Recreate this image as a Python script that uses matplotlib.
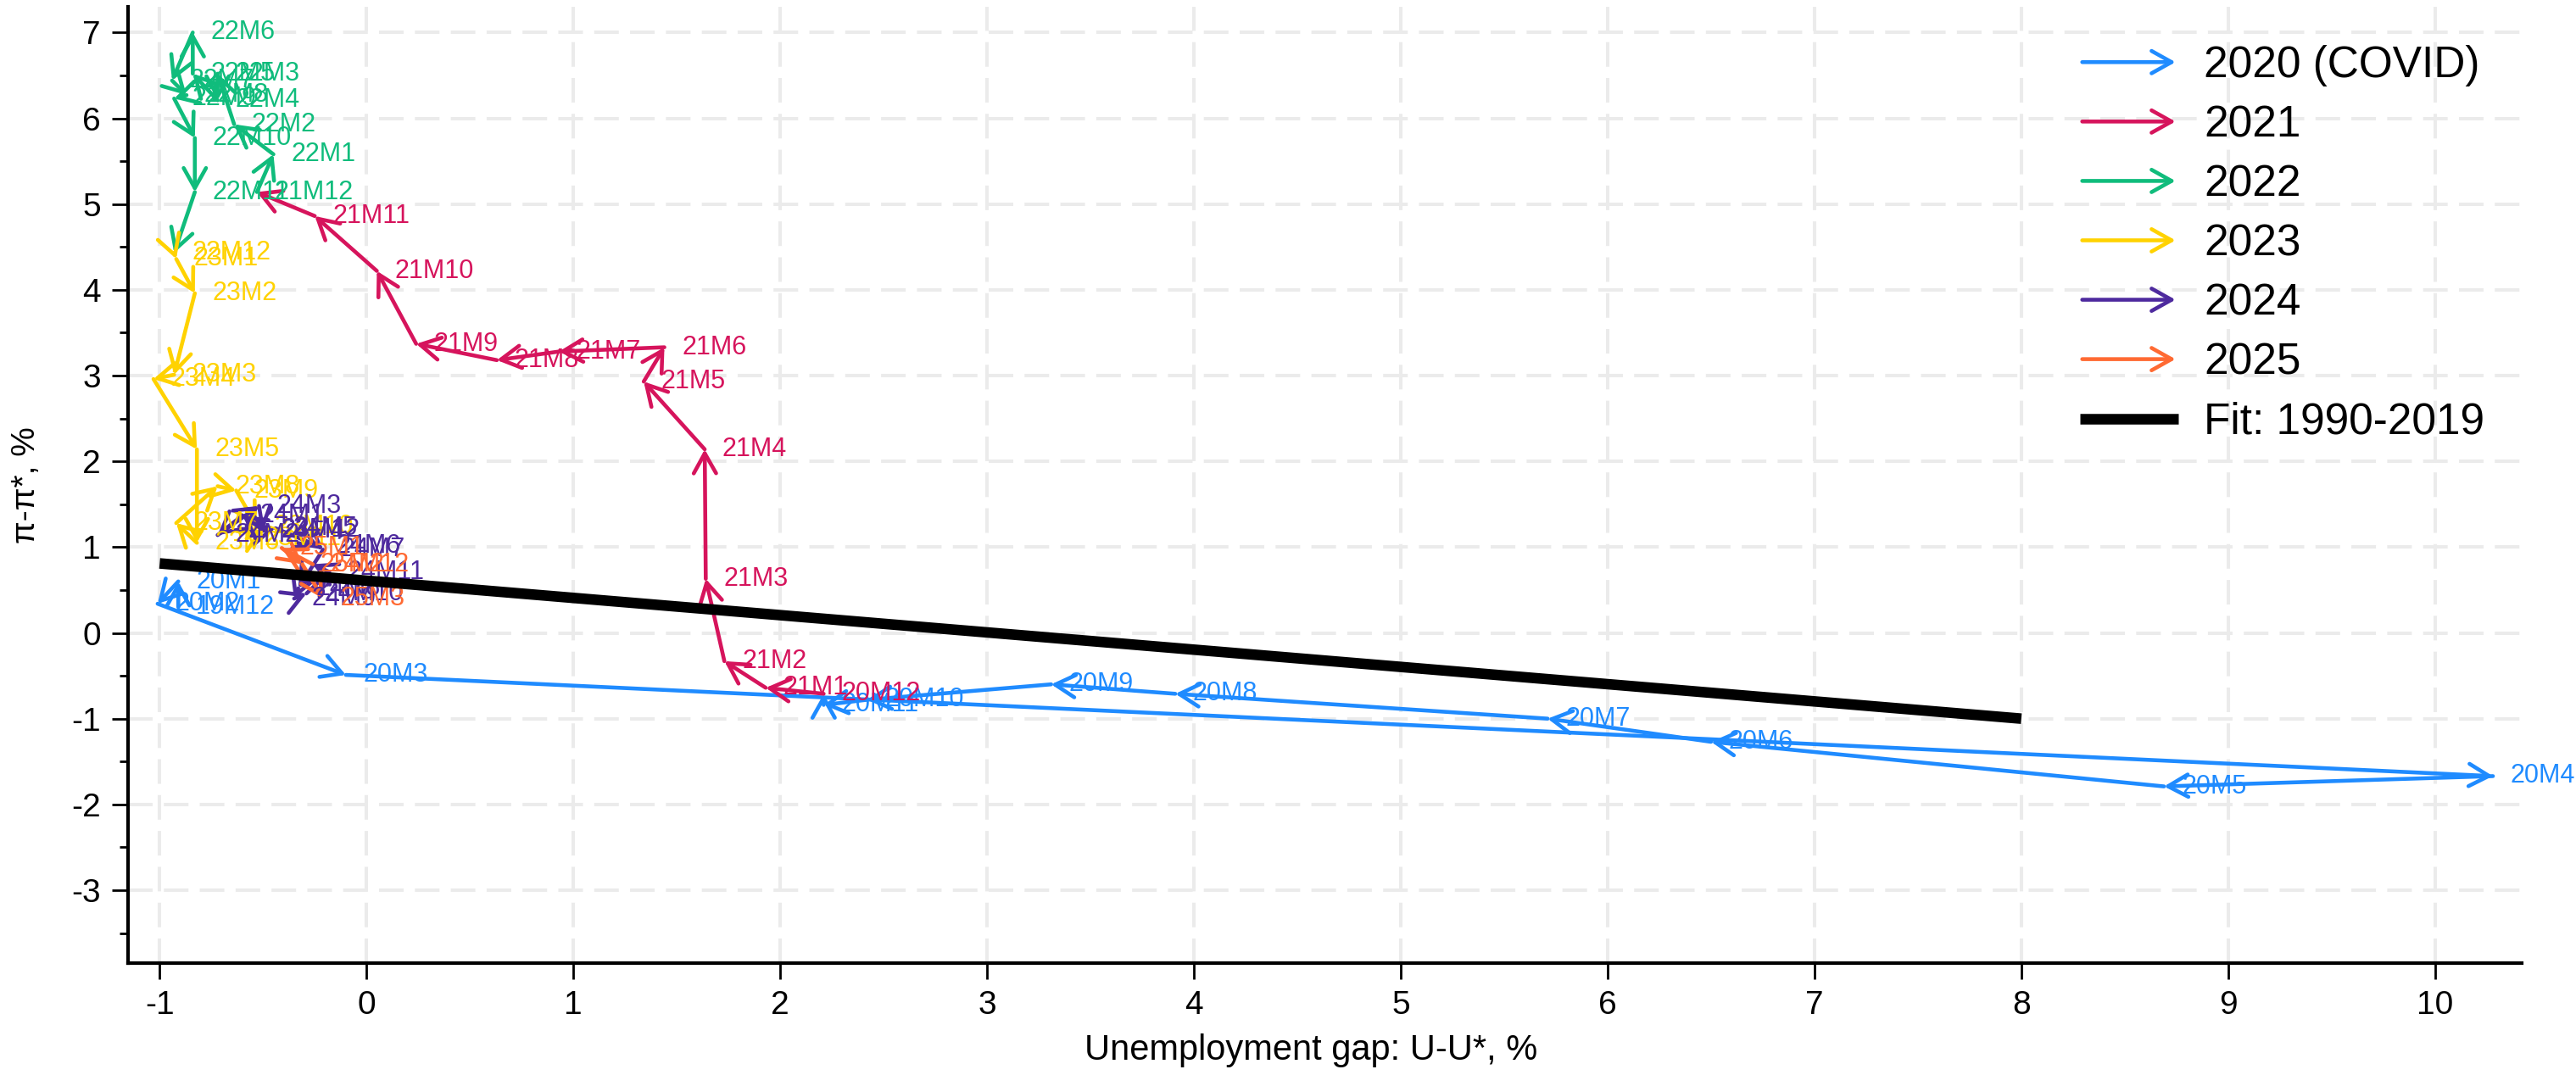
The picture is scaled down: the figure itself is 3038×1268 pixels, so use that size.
import matplotlib
matplotlib.use('Agg')
import matplotlib.pyplot as plt
import matplotlib.patches as mpatches
from matplotlib.lines import Line2D
from matplotlib.legend_handler import HandlerPatch
from matplotlib.ticker import MultipleLocator

plt.rcParams['font.family'] = ['Liberation Sans', 'DejaVu Sans']
plt.rcParams['axes.unicode_minus'] = False

# monthly path: unemployment gap (x) vs inflation gap (y)
months = ['19M12',
          '20M1', '20M2', '20M3', '20M4', '20M5', '20M6', '20M7', '20M8', '20M9', '20M10', '20M11', '20M12',
          '21M1', '21M2', '21M3', '21M4', '21M5', '21M6', '21M7', '21M8', '21M9', '21M10', '21M11', '21M12',
          '22M1', '22M2', '22M3', '22M4', '22M5', '22M6', '22M7', '22M8', '22M9', '22M10', '22M11', '22M12',
          '23M1', '23M2', '23M3', '23M4', '23M5', '23M6', '23M7', '23M8', '23M9', '23M10', '23M11', '23M12',
          '24M1', '24M2', '24M3', '24M4', '24M5', '24M6', '24M7', '24M8', '24M9', '24M10', '24M11', '24M12',
          '25M1', '25M2', '25M3']
ugap = [-0.91,
        -0.91, -1.01, -0.10, 10.28, 8.69, 6.50, 5.71, 3.91, 3.31, 2.42, 2.21, 2.21,
        1.93, 1.73, 1.64, 1.635, 1.34, 1.44, 0.93, 0.63, 0.24, 0.05, -0.25, -0.53,
        -0.45, -0.64, -0.72, -0.72, -0.84, -0.84, -0.94, -0.87, -0.93, -0.83, -0.83, -0.93,
        -0.92, -0.83, -0.93, -1.03, -0.82, -0.82, -0.92, -0.72, -0.63, -0.53, -0.58, -0.50,
        -0.60, -0.72, -0.52, -0.50, -0.44, -0.23, -0.21, -0.33, -0.35, -0.29, -0.18, -0.26,
        -0.41, -0.31, -0.21]
pgap = [0.30,
        0.60, 0.34, -0.49, -1.67, -1.79, -1.27, -1.00, -0.71, -0.60, -0.78, -0.84, -0.71,
        -0.64, -0.33, 0.63, 2.14, 2.93, 3.33, 3.28, 3.18, 3.37, 4.22, 4.86, 5.14,
        5.58, 5.93, 6.52, 6.21, 6.52, 7.00, 6.44, 6.27, 6.23, 5.77, 5.14, 4.43,
        4.36, 3.96, 3.01, 2.96, 2.14, 1.05, 1.28, 1.71, 1.66, 1.24, 1.10, 1.20,
        1.37, 1.14, 1.48, 1.19, 1.22, 1.01, 0.97, 0.52, 0.40, 0.46, 0.71, 0.80,
        0.99, 0.80, 0.40]

year_names = ['2020 (COVID)', '2021', '2022', '2023', '2024', '2025']
year_colors = ['#1f8bff', '#d6145c', '#10bc7c', '#ffd200', '#4e2a9e', '#ff6a33']

fit_x = [-1, 8]
fit_y = [0.81, -1.0]

ARROW = '->,head_length=17,head_width=9.5'


def color_of(m):
    return year_colors[max(int(m[:2]) - 20, 0)]


class ArrowHandler(HandlerPatch):
    def create_artists(self, legend, orig_handle, xdescent, ydescent,
                       width, height, fontsize, trans):
        y = (height - ydescent) / 2
        arr = mpatches.FancyArrowPatch((-xdescent, y), (-xdescent + width, y),
                                       arrowstyle=ARROW, mutation_scale=1, lw=3.3,
                                       color=orig_handle.get_edgecolor(),
                                       capstyle='round', joinstyle='round',
                                       transform=trans)
        return [arr]


fig = plt.figure(figsize=(30.38, 12.68), dpi=100)
ax = fig.add_axes([0.0497, 0.1041, 0.9293, 0.8896])

n = len(months)
for i in range(1, n):
    ax.annotate('', xy=(ugap[i], pgap[i]), xytext=(ugap[i - 1], pgap[i - 1]),
                arrowprops=dict(arrowstyle=ARROW, mutation_scale=1, lw=3.3,
                                color=color_of(months[i]), shrinkA=0, shrinkB=0,
                                capstyle='round', joinstyle='round'),
                zorder=2)

for i in range(n):
    c = color_of(months[i + 1]) if i + 1 < n else color_of(months[i])
    ax.annotate(months[i], xy=(ugap[i], pgap[i]), xytext=(15, 0),
                textcoords='offset points', va='center', ha='left',
                fontsize=22, color=c, zorder=2)

ax.plot(fit_x, fit_y, color='black', lw=9, solid_capstyle='butt', zorder=3)

ax.set_xlim(-1.153, 10.42)
ax.set_ylim(-3.85, 7.30)
ax.set_xticks(range(-1, 11))
ax.set_yticks(range(-3, 8))
ax.yaxis.set_minor_locator(MultipleLocator(0.5))
ax.tick_params(axis='both', which='major', direction='out', length=14, width=2.0,
               labelsize=28, color='black')
ax.tick_params(axis='x', which='major', pad=9)
ax.tick_params(axis='y', which='major', pad=9)
ax.tick_params(axis='y', which='minor', direction='out', length=7, width=2.0)

ax.grid(True, which='major', color='#ebebeb', lw=2.9, ls=(0, (7.2, 3.3)))
ax.set_axisbelow(True)
for s in ['top', 'right']:
    ax.spines[s].set_visible(False)
for s in ['left', 'bottom']:
    ax.spines[s].set_linewidth(3.0)

ax.set_xlabel('Unemployment gap: U-U*, %', fontsize=30)
ax.set_ylabel('π-π*, %', fontsize=28)
ax.xaxis.set_label_coords(0.494, -0.074)
ax.yaxis.set_label_coords(-0.036, 0.5)

handles = [mpatches.Patch(edgecolor=c, facecolor='none', label=nm)
           for nm, c in zip(year_names, year_colors)]
handles.append(Line2D([], [], color='black', lw=9, solid_capstyle='butt',
                      label='Fit: 1990-2019'))
fig.legend(handles=handles, loc='upper left', bbox_to_anchor=(0.8074, 0.958),
           frameon=False, fontsize=37, handlelength=2.25, handletextpad=0.6,
           labelspacing=0.41, borderpad=0, borderaxespad=0,
           handler_map={mpatches.Patch: ArrowHandler()})

fig.savefig('out.png', dpi=100)
